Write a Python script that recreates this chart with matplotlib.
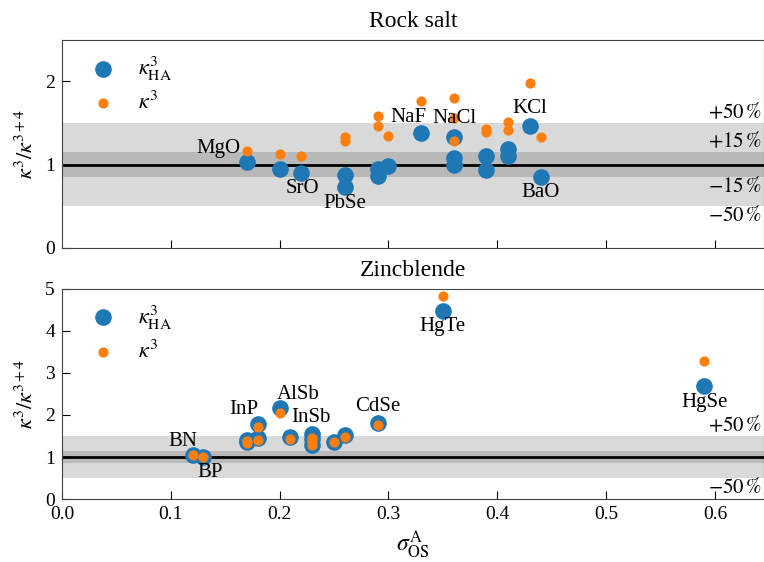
# %% Load the packages
import matplotlib
matplotlib.use('Agg')
import matplotlib.pyplot as plt
import matplotlib.transforms as mtransforms

plt.rcParams['font.family'] = ['Liberation Serif', 'DejaVu Serif']
plt.rcParams['mathtext.fontset'] = 'stix'

# %% Colors
blue = '#1f77b4'
orange = '#ff7f0e'
light_band = '#d9d9d9'
dark_band = '#b9b9b9'

# %% Rock salt data
rs_x = [0.17, 0.20, 0.22, 0.26, 0.26, 0.29, 0.29, 0.30, 0.33,
        0.36, 0.36, 0.36, 0.39, 0.39, 0.41, 0.41, 0.43, 0.44]
rs_ha = [1.03, 0.95, 0.90, 0.88, 0.73, 0.95, 0.86, 0.98, 1.38,
         1.33, 1.08, 1.00, 1.11, 0.93, 1.19, 1.10, 1.46, 0.85]
rs_k3 = [1.17, 1.13, 1.11, 1.33, 1.28, 1.59, 1.46, 1.35, 1.77,
         1.29, 1.80, 1.56, 1.43, 1.39, 1.51, 1.42, 1.98, 1.33]
rs_names = ['MgO', 'SrO', 'PbSe', 'NaF', 'NaCl', 'KCl', 'BaO']
rs_label_x = [0.164, 0.221, 0.260, 0.318, 0.361, 0.430, 0.440]
rs_label_y = [1.20, 0.71, 0.53, 1.57, 1.55, 1.67, 0.66]
rs_label_ha = ['right', 'center', 'center', 'center', 'center', 'center', 'center']

# %% Zincblende data
zb_x = [0.12, 0.13, 0.17, 0.17, 0.18, 0.18, 0.20, 0.21,
        0.23, 0.23, 0.23, 0.25, 0.26, 0.29, 0.35, 0.59]
zb_ha = [1.05, 1.01, 1.40, 1.36, 1.79, 1.45, 2.16, 1.48,
         1.54, 1.42, 1.28, 1.35, 1.52, 1.82, 4.48, 2.69]
zb_k3 = [1.05, 1.01, 1.38, 1.33, 1.71, 1.40, 2.04, 1.42,
         1.45, 1.38, 1.28, 1.35, 1.48, 1.76, 4.82, 3.29]
zb_names = ['BN', 'BP', 'InP', 'AlSb', 'InSb', 'CdSe', 'HgTe', 'HgSe']
zb_label_x = [0.111, 0.136, 0.167, 0.217, 0.229, 0.290, 0.350, 0.590]
zb_label_y = [1.38, 0.64, 2.12, 2.48, 1.93, 2.21, 4.10, 2.29]

# %% Plot
fsize = 15
fig = plt.figure(figsize=(7.64, 5.62), dpi=100)
ax1 = fig.add_axes([0.081, 0.559, 0.919, 0.370])
ax2 = fig.add_axes([0.081, 0.112, 0.919, 0.374])


def setup(ax, ymax, title, bands):
    ax.axhspan(0.5, 1.5, color=light_band, lw=0, zorder=0)
    ax.axhspan(0.85, 1.15, color=dark_band, lw=0, zorder=0)
    ax.axhline(1, color='black', lw=2, zorder=1)
    trans = mtransforms.blended_transform_factory(ax.transAxes, ax.transData)
    for txt, yy, va in bands:
        ax.text(0.997, yy, txt, transform=trans, ha='right', va=va, fontsize=fsize)
    ax.set_xlim(0, 0.645)
    ax.set_ylim(0, ymax)
    ax.set_title(title, fontsize=17, pad=9)
    ax.tick_params(direction='in', labelsize=14, length=6)
    ax.tick_params(axis='x', pad=5)
    ax.tick_params(axis='y', pad=5)
    for s in ax.spines.values():
        s.set_color('#444444')


setup(ax1, 2.5, 'Rock salt',
      [(r'$+50\,\%$', 1.5, 'bottom'), (r'$+15\,\%$', 1.15, 'bottom'),
       (r'$-15\,\%$', 0.85, 'top'), (r'$-50\,\%$', 0.5, 'top')])
setup(ax2, 5, 'Zincblende',
      [(r'$+50\,\%$', 1.5, 'bottom'), (r'$-50\,\%$', 0.5, 'top')])

ax1.scatter(rs_x, rs_ha, s=120, color=blue, label=r'$\kappa^3_{\mathrm{HA}}$', zorder=3)
ax1.scatter(rs_x, rs_k3, s=40, color=orange, label=r'$\kappa^3$', zorder=4)
for n, lx, ly, h in zip(rs_names, rs_label_x, rs_label_y, rs_label_ha):
    ax1.text(lx, ly, n, ha=h, va='center', fontsize=fsize, zorder=5)

ax2.scatter(zb_x, zb_ha, s=120, color=blue, label=r'$\kappa^3_{\mathrm{HA}}$', zorder=3)
ax2.scatter(zb_x, zb_k3, s=40, color=orange, label=r'$\kappa^3$', zorder=4)
for n, lx, ly in zip(zb_names, zb_label_x, zb_label_y):
    ax2.text(lx, ly, n, ha='center', va='center', fontsize=fsize, zorder=5)

ax1.set_yticks([0, 1, 2])
ax1.set_xticks([0.1, 0.2, 0.3, 0.4, 0.5, 0.6])
ax1.tick_params(labelbottom=False)
ax2.set_yticks([0, 1, 2, 3, 4, 5])
ax2.set_xticks([0.0, 0.1, 0.2, 0.3, 0.4, 0.5, 0.6])

for ax in (ax1, ax2):
    ax.set_ylabel(r'$\kappa^3/\kappa^{3+4}$', fontsize=16, labelpad=5)
    ax.legend(loc='upper left', bbox_to_anchor=(0.006, 1.0), frameon=False,
              fontsize=16, handletextpad=0.6, labelspacing=0.4,
              borderaxespad=0.25)

ax2.set_xlabel(r'$\sigma^{\mathrm{A}}_{\mathrm{OS}}$', fontsize=17, labelpad=4)

plt.savefig('out.png', dpi=100)
